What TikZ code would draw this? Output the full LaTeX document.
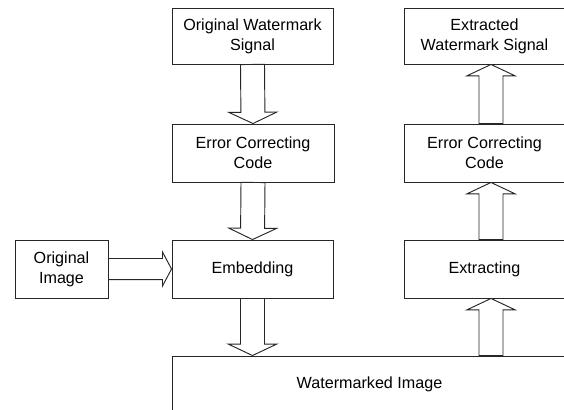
\documentclass[tikz,border=0pt]{standalone}
\usepackage{fontspec}
\setmainfont{Liberation Sans}
\usetikzlibrary{calc}
\tikzset{
  box/.style={draw=black!85, line width=0.7pt, rectangle, minimum height={58*0.75}, align=center, inner sep=0pt,
    font=\fontsize{12.1}{15}\selectfont},
  fat/.style n args={3}{draw=black!85, line width=0.7pt, fill=white, line join=miter,
    to path={($(\tikztostart)!#1!90:(\tikztotarget)$)
      -- ($($(\tikztotarget)!#3!(\tikztostart)$)!#1!90:(\tikztotarget)$)
      -- ($($(\tikztotarget)!#3!(\tikztostart)$)!#2!90:(\tikztotarget)$)
      -- (\tikztotarget)
      -- ($($(\tikztotarget)!#3!(\tikztostart)$)!#2!-90:(\tikztotarget)$)
      -- ($($(\tikztotarget)!#3!(\tikztostart)$)!#1!-90:(\tikztotarget)$)
      -- ($(\tikztostart)!#1!-90:(\tikztotarget)$) -- cycle}},
  fatv/.style={fat={9pt}{18pt}{8.5pt}},
  fath/.style={fat={7.9pt}{12.8pt}{6.8pt}}
}
\begin{document}
\begin{tikzpicture}[x=0.75pt,y=-0.75pt]
\useasboundingbox (0,0) rectangle (564,410);
% left column
\node[box, minimum width={161*0.75}, minimum height={56*0.75}] (ows) at (252.5,36) {Original Watermark\\Signal};
\node[box, minimum width={162*0.75}] (eccL) at (253,153) {Error Correcting\\Code};
\node[box, minimum width={161*0.75}] (emb) at (252.5,269) {Embedding};
\node[box, minimum width={93*0.75}] (oimg) at (61.5,269) {Original\\Image};
% right column
\node[box, minimum width={161*0.75}, minimum height={56*0.75}] (ews) at (484.5,36) {Extracted\\Watermark Signal};
\node[box, minimum width={161*0.75}] (eccR) at (484.5,153) {Error Correcting\\Code};
\node[box, minimum width={161*0.75}] (ext) at (484.5,269) {Extracting};
% watermarked image (extends beyond the frame)
\node[box, minimum width={395*0.75}, minimum height={56*0.75}] (wm) at (369.5,384) {Watermarked Image};
\coordinate (rc) at (491,0);
\coordinate (wmL) at (emb.south |- wm.north);
\coordinate (wmR) at (wm.north -| rc);
\coordinate (extS) at (ext.south -| rc);
\coordinate (extN) at (ext.north -| rc);
\coordinate (eccRS) at (eccR.south -| rc);
\coordinate (eccRN) at (eccR.north -| rc);
\coordinate (ewsS) at (ews.south -| rc);
% arrows
\path[fatv] (ows.south) to (eccL.north);
\path[fatv] (eccL.south) to (emb.north);
\path[fatv] (emb.south) to (wmL);
\path[fath] (oimg.east) to (emb.west);
\path[fatv] (wmR) to (extS);
\path[fatv] (extN) to (eccRS);
\path[fatv] (eccRN) to (ewsS);
\end{tikzpicture}
\end{document}
